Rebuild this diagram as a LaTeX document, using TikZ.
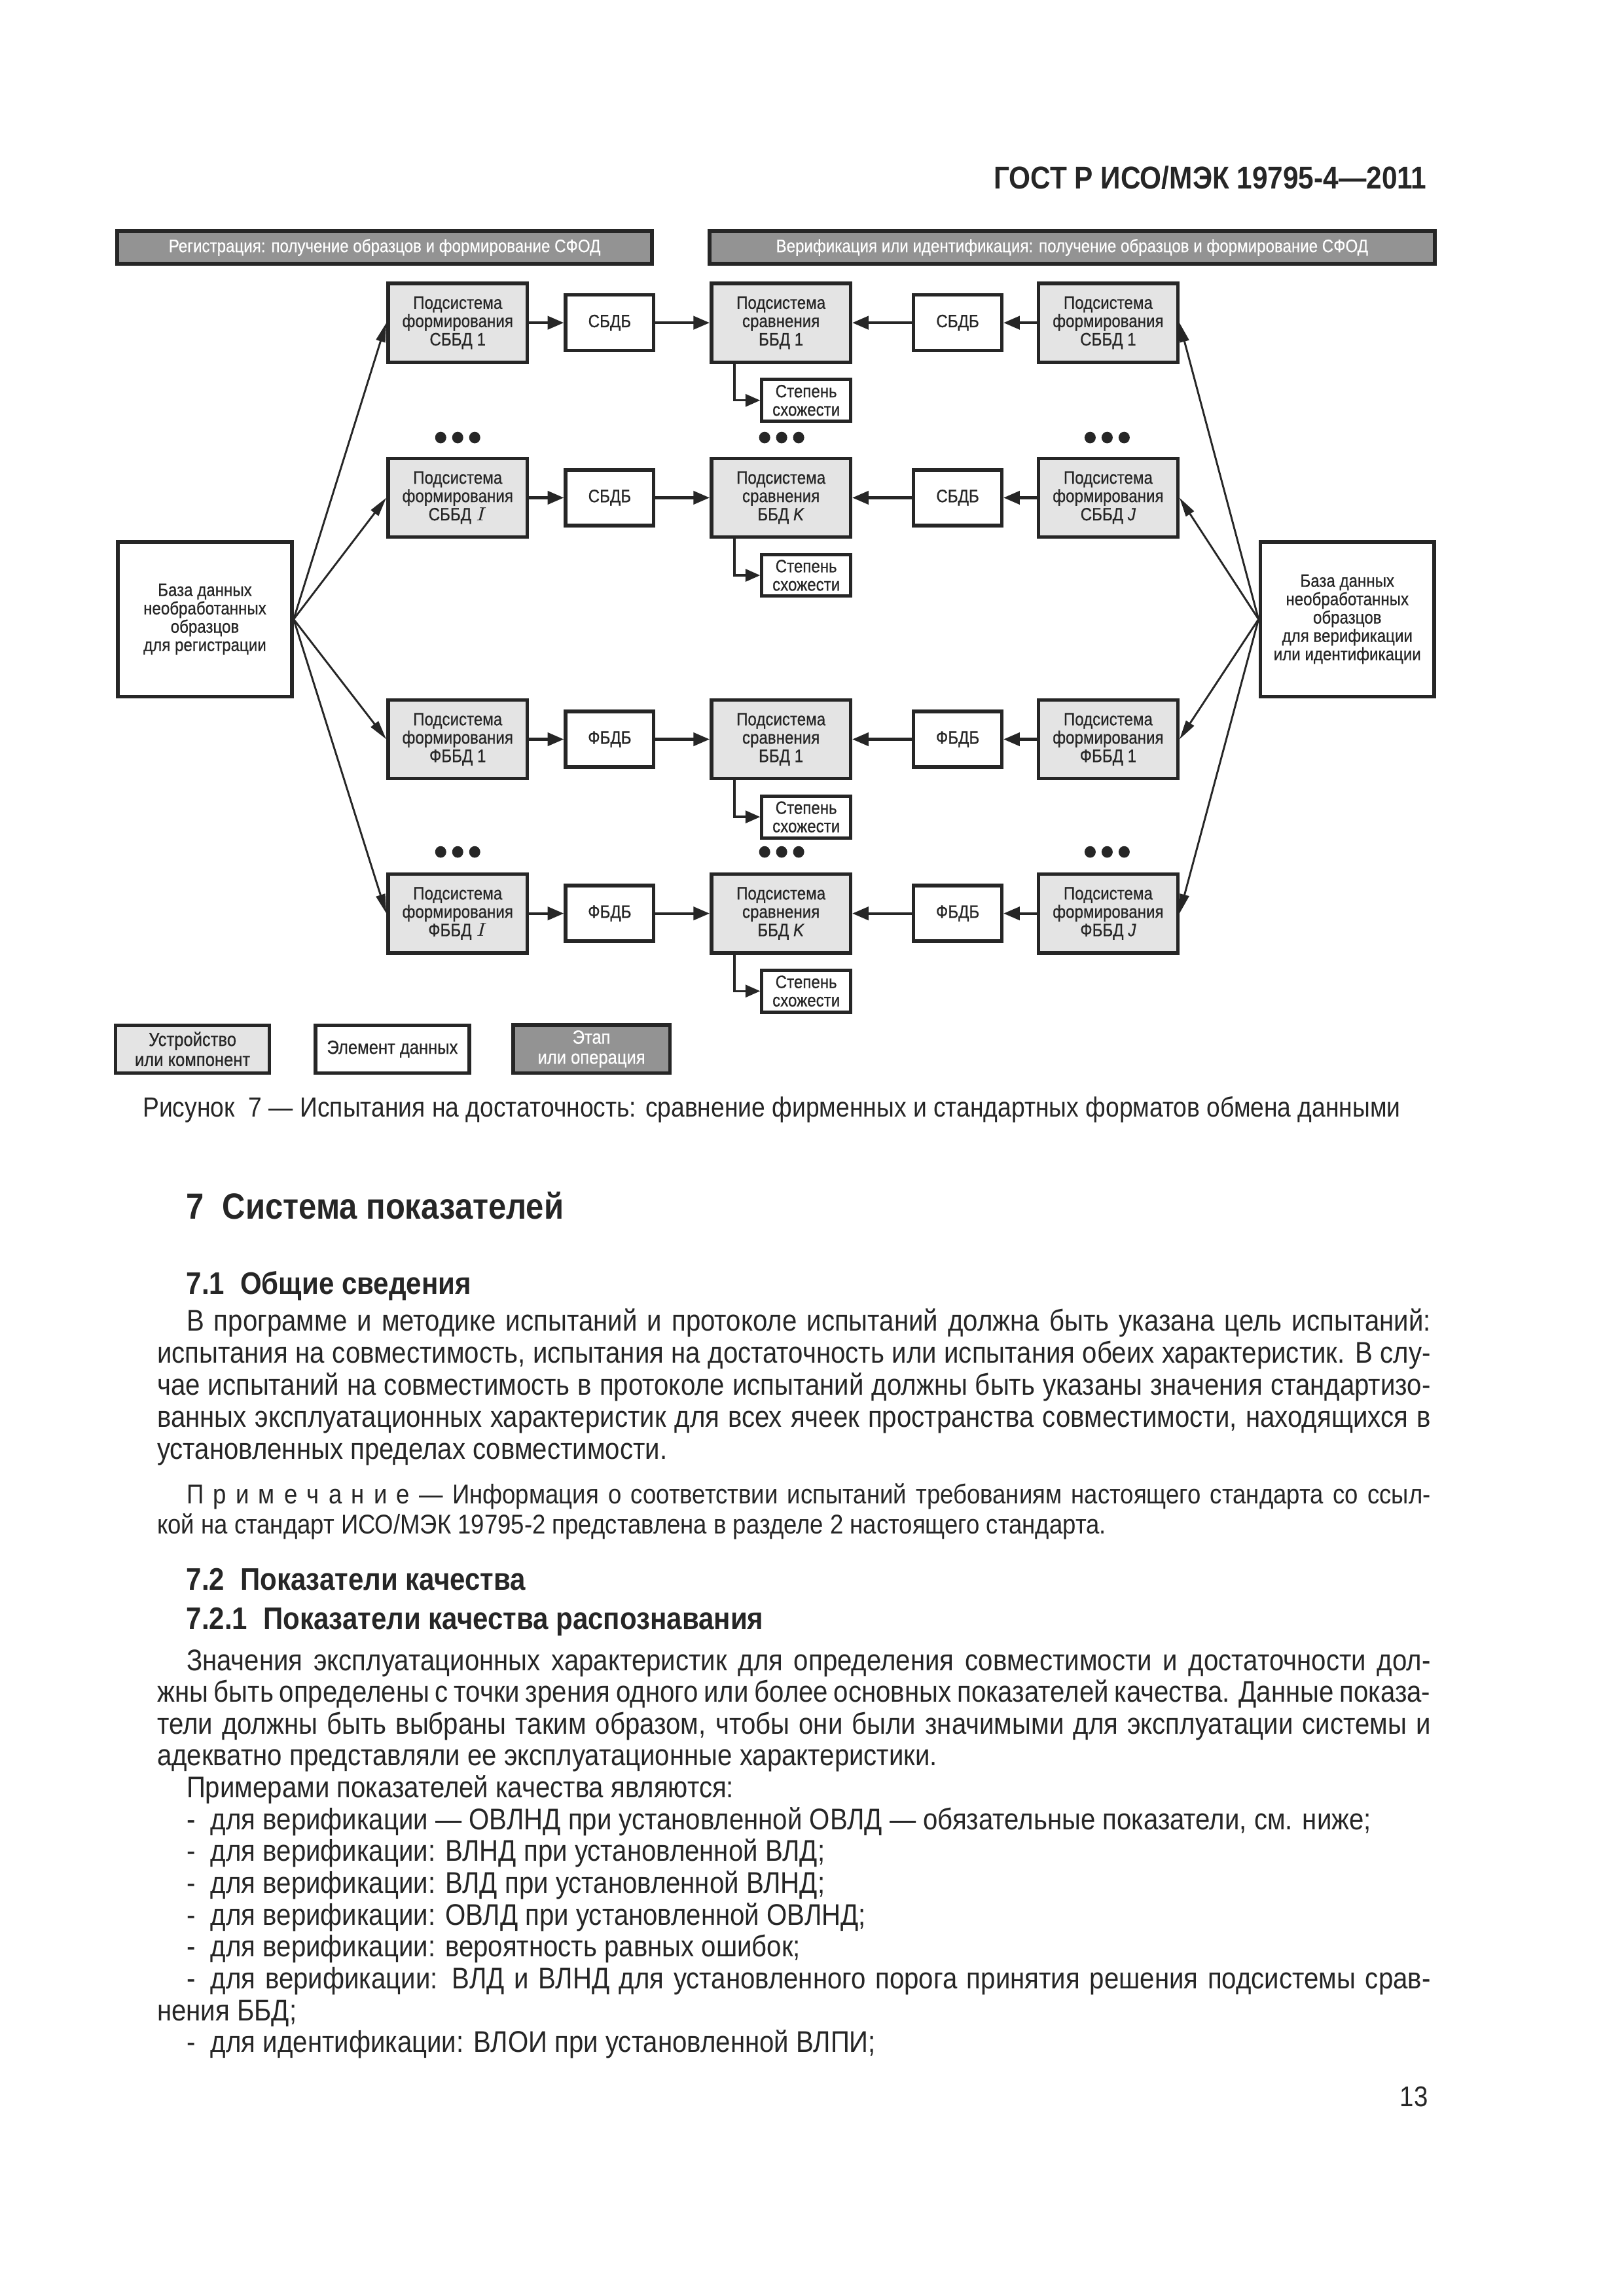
\documentclass[tikz,border=0pt]{standalone}
\usepackage{fontspec}
\setmainfont{Liberation Sans}[FakeStretch=0.88]
\newfontfamily\diagfont{Liberation Sans}[FakeStretch=0.88, FakeBold=0.6]
\usetikzlibrary{
    arrows.meta,
    positioning
}
\definecolor{inkGray}{RGB}{38,38,38}
\definecolor{boxGray}{RGB}{228,228,228}
\definecolor{stageGray}{RGB}{147,147,147}
\newcommand{\boxfont}{\diagfont\fontsize{6.6}{6.75}\selectfont}
\newcommand{\legfont}{\diagfont\fontsize{7}{7.4}\selectfont}
\newcommand{\bodyfont}{\fontsize{11}{11.8}\selectfont}
\newcommand{\notefont}{\fontsize{10}{11.3}\selectfont}
\newcommand{\jl}[1]{\makebox[\hsize][s]{#1}}
\newcommand{\textcol}[1]{\vtop{\hsize=164.7mm\parindent=0pt\parskip=0pt #1}}
\tikzset{
  unit/.style   = {draw=inkGray, line width=1.3pt, fill=boxGray, minimum width=18mm,
                   minimum height=10.2mm, align=center, font=\boxfont, inner sep=0pt},
  data/.style   = {draw=inkGray, line width=1.3pt, fill=white, minimum width=11.4mm,
                   minimum height=7.2mm, align=center, font=\boxfont, inner sep=0pt},
  score/.style  = {draw=inkGray, line width=1.2pt, fill=white, minimum width=11.5mm,
                   minimum height=5.4mm, align=center, font=\boxfont, inner sep=0pt},
  source/.style = {draw=inkGray, line width=1.3pt, fill=white, minimum width=22.5mm,
                   minimum height=20mm, align=center, font=\boxfont, inner sep=0pt},
  stage/.style  = {draw=inkGray, line width=1.4pt, fill=stageGray, text=white,
                   minimum height=4.2mm, align=center, font=\boxfont, inner sep=0pt},
  arr/.style    = {-{Triangle[length=2.1mm,width=1.7mm]}, line width=1pt, draw=inkGray},
  fan/.style    = {-{Triangle[length=2.5mm,width=1.2mm]}, line width=0.7pt, draw=inkGray},
  tap/.style    = {-{Triangle[length=1.9mm,width=1.6mm]}, line width=0.8pt, draw=inkGray}
}

\begin{document}
\begin{tikzpicture}[x=1mm, y=1mm, color=inkGray,
        head/.style={anchor=base west, inner sep=0pt, font=\bfseries\fontsize{11.5}{12}\selectfont}
      ]
        \path[fill=white] (0,0) rectangle (210,-297);

        \node[anchor=base east, inner sep=0pt, font=\bfseries\fontsize{11.6}{12}\selectfont]
          (page_head) at (184.6,-24.4) {ГОСТ Р ИСО/МЭК 19795-4—2011};

        % ── STAGES ──
        \node[stage, minimum width=69.2mm] (B_reg) at (49.75,-32)
          {Регистрация: получение образцов и формирование СФОД};
        \node[stage, minimum width=93.8mm] (B_ver) at (138.66,-32)
          {Верификация или идентификация: получение образцов и формирование СФОД};

        % ── ROW 1 ──
        \node[unit] (L_form1) at (59.2,-41.75) {Подсистема\\формирования\\СББД 1};
        \node[data, right=4.5mm of L_form1] (L_db1) {СБДБ};
        \node[unit, right=7.0mm of L_db1] (C_cmp1) {Подсистема\\сравнения\\ББД 1};
        \node[data, right=7.7mm of C_cmp1] (R_db1) {СБДБ};
        \node[unit, right=4.3mm of R_db1] (R_form1) {Подсистема\\формирования\\СББД 1};
        \node[score, below left=1.8mm and 0mm of C_cmp1.south east] (C_sim1) {Степень\\схожести};

        % ── ROW 2 ──
        \node[unit] (L_form2) at (59.2,-64.38) {Подсистема\\формирования\\СББД $I$};
        \node[data, right=4.5mm of L_form2] (L_db2) {СБДБ};
        \node[unit, right=7.0mm of L_db2] (C_cmp2) {Подсистема\\сравнения\\ББД \textit{K}};
        \node[data, right=7.7mm of C_cmp2] (R_db2) {СБДБ};
        \node[unit, right=4.3mm of R_db2] (R_form2) {Подсистема\\формирования\\СББД \textit{J}};
        \node[score, below left=1.8mm and 0mm of C_cmp2.south east] (C_sim2) {Степень\\схожести};

        % ── ROW 3 ──
        \node[unit] (L_form3) at (59.2,-95.63) {Подсистема\\формирования\\ФББД 1};
        \node[data, right=4.5mm of L_form3] (L_db3) {ФБДБ};
        \node[unit, right=7.0mm of L_db3] (C_cmp3) {Подсистема\\сравнения\\ББД 1};
        \node[data, right=7.7mm of C_cmp3] (R_db3) {ФБДБ};
        \node[unit, right=4.3mm of R_db3] (R_form3) {Подсистема\\формирования\\ФББД 1};
        \node[score, below left=1.8mm and 0mm of C_cmp3.south east] (C_sim3) {Степень\\схожести};

        % ── ROW 4 ──
        \node[unit] (L_form4) at (59.2,-118.16) {Подсистема\\формирования\\ФББД $I$};
        \node[data, right=4.5mm of L_form4] (L_db4) {ФБДБ};
        \node[unit, right=7.0mm of L_db4] (C_cmp4) {Подсистема\\сравнения\\ББД \textit{K}};
        \node[data, right=7.7mm of C_cmp4] (R_db4) {ФБДБ};
        \node[unit, right=4.3mm of R_db4] (R_form4) {Подсистема\\формирования\\ФББД \textit{J}};
        \node[score, below left=1.8mm and 0mm of C_cmp4.south east] (C_sim4) {Степень\\схожести};

        \foreach \r in {1,...,4} {
          \draw[arr] (L_form\r) -- (L_db\r);
          \draw[arr] (L_db\r) -- (C_cmp\r);
          \draw[arr] (R_form\r) -- (R_db\r);
          \draw[arr] (R_db\r) -- (C_cmp\r);
          \draw[tap] ([xshift=3.2mm]C_cmp\r.south west) |- (C_sim\r.west);
        }

        % ellipsis dots
        \foreach \x/\y in {59.2/-56.6, 101.1/-56.6, 143.2/-56.6,
                           59.2/-110.2, 101.1/-110.2, 143.2/-110.2}
          \foreach \d in {-2.2,0,2.2}
            \fill (\x+\d,\y) circle[x radius=0.72mm, y radius=0.75mm];

        % ── SAMPLE DATABASES ──
        \node[source] (DB_reg) at (26.5,-80.1)
          {База данных\\необработанных\\образцов\\для регистрации};
        \node[source] (DB_ver) at (174.26,-80.1)
          {База данных\\необработанных\\образцов\\для верификации\\или идентификации};

        \foreach \r in {1,...,4} {
          \draw[fan] (DB_reg.east) -- (L_form\r.west);
          \draw[fan] (DB_ver.west) -- (R_form\r.east);
        }

        % ── LEGEND ──
        \node[unit, minimum width=19.9mm, minimum height=6.2mm, font=\legfont]
          (K_unit) at (24.9,-135.7) {Устройство\\или компонент};
        \node[data, minimum width=19.9mm, minimum height=6.2mm, font=\legfont]
          (K_data) at (50.75,-135.7) {Элемент данных};
        \node[stage, minimum width=20.3mm, minimum height=6.2mm, font=\legfont]
          (K_stage) at (76.5,-135.7) {Этап\\или операция};

        \node[anchor=base west, inner sep=0pt, font=\fontsize{10.2}{12}\selectfont] (fig_cap) at (18.4,-144.5)
          {Рисунок\enspace 7 — Испытания на достаточность: сравнение фирменных и стандартных форматов обмена данными};

        % ── TEXT ──
        \node[head, font=\bfseries\fontsize{13.4}{14}\selectfont] (H_7) at (24.05,-157.7)
          {7\hspace{0.5em}Система показателей};
        \node[head] (H_71) at (24.05,-167.4) {7.1\hspace{0.5em}Общие сведения};

        \node[anchor=base west, inner sep=0pt] (P_aims) at (20.26,-172.13) {\textcol{\bodyfont
          \jl{\hspace*{3.8mm}В программе и методике испытаний и протоколе испытаний должна быть указана цель испытаний:}\par
          \jl{испытания на совместимость, испытания на достаточность или испытания обеих характеристик. В слу-}\par
          \jl{чае испытаний на совместимость в протоколе испытаний должны быть указаны значения стандартизо-}\par
          \jl{ванных эксплуатационных характеристик для всех ячеек пространства совместимости, находящихся в}\par
          установленных пределах совместимости.\par}};

        \node[anchor=base west, inner sep=0pt] (P_note) at (20.26,-194.47) {\textcol{\notefont
          \jl{\hspace*{3.8mm}П р и м е ч а н и е — Информация о соответствии испытаний требованиям настоящего стандарта со ссыл-}\par
          кой на стандарт ИСО/МЭК 19795-2 представлена в разделе 2 настоящего стандарта.\par}};

        \node[head] (H_72) at (24.05,-205.65) {7.2\hspace{0.5em}Показатели качества};
        \node[head] (H_721) at (24.05,-210.76) {7.2.1\hspace{0.5em}Показатели качества распознавания};

        \node[anchor=base west, inner sep=0pt] (P_metrics) at (20.26,-216.06) {\textcol{\fontsize{11}{11.72}\selectfont
          \jl{\hspace*{3.8mm}Значения эксплуатационных характеристик для определения совместимости и достаточности дол-}\par
          \jl{жны быть определены с точки зрения одного или более основных показателей качества. Данные показа-}\par
          \jl{тели должны быть выбраны таким образом, чтобы они были значимыми для эксплуатации системы и}\par
          адекватно представляли ее эксплуатационные характеристики.\par
          \hspace*{3.8mm}Примерами показателей качества являются:\par
          \hspace*{3.8mm}-\hspace{2mm}для верификации — ОВЛНД при установленной ОВЛД — обязательные показатели, см. ниже;\par
          \hspace*{3.8mm}-\hspace{2mm}для верификации: ВЛНД при установленной ВЛД;\par
          \hspace*{3.8mm}-\hspace{2mm}для верификации: ВЛД при установленной ВЛНД;\par
          \hspace*{3.8mm}-\hspace{2mm}для верификации: ОВЛД при установленной ОВЛНД;\par
          \hspace*{3.8mm}-\hspace{2mm}для верификации: вероятность равных ошибок;\par
          \jl{\hspace*{3.8mm}-\hspace{2mm}для верификации: ВЛД и ВЛНД для установленного порога принятия решения подсистемы срав-}\par
          нения ББД;\par
          \hspace*{3.8mm}-\hspace{2mm}для идентификации: ВЛОИ при установленной ВЛПИ;\par}};

        \node[anchor=base, inner sep=0pt, font=\fontsize{10.5}{12}\selectfont] (page_no) at (182.9,-272.5) {13};
      \end{tikzpicture}
\end{document}
